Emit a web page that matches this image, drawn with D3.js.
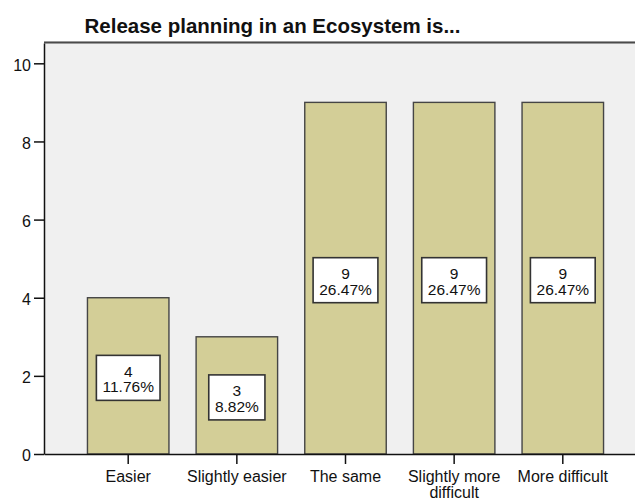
<!DOCTYPE html>
<html>
<head>
<meta charset="utf-8">
<script src="https://cdn.jsdelivr.net/npm/d3@7"></script>
<style>
  html, body { margin: 0; padding: 0; background: #ffffff; }
  svg { display: block; font-family: "Liberation Sans", Arial, sans-serif; }
</style>
</head>
<body>
<svg id="chart" width="635" height="500"></svg>
<script>
// Survey answers and their counts
const categories = ["Easier", "Slightly easier", "The same", "Slightly more difficult", "More difficult"];
const counts = [4, 3, 9, 9, 9];
const yTicks = [0, 2, 4, 6, 8, 10];
const title = "Release planning in an Ecosystem is...";

const svg = d3.select("#chart");
const plot = { left: 44, right: 647, top: 43, bottom: 454 };
const total = d3.sum(counts);
const pct = d3.format(".2f");

const x = d3.scaleBand()
  .domain(categories)
  .range([plot.left, plot.right])
  .paddingInner(0.25)
  .paddingOuter(0.4);

const y = d3.scaleLinear()
  .domain([0, 10.52])
  .range([plot.bottom, plot.top]);

// plot background
svg.append("rect")
  .attr("x", plot.left).attr("y", plot.top)
  .attr("width", plot.right - plot.left)
  .attr("height", plot.bottom - plot.top)
  .attr("fill", "#f0f0f0");

// top frame line
svg.append("line")
  .attr("x1", plot.left).attr("x2", plot.right)
  .attr("y1", plot.top - 0.5).attr("y2", plot.top - 0.5)
  .attr("stroke", "#9a9a9a").attr("stroke-width", 3);
svg.append("line")
  .attr("x1", plot.left).attr("x2", plot.right)
  .attr("y1", plot.top - 0.5).attr("y2", plot.top - 0.5)
  .attr("stroke", "#4a4a4a").attr("stroke-width", 1.2);

// title
svg.append("text")
  .attr("x", 272.5).attr("y", 33)
  .attr("text-anchor", "middle")
  .attr("font-size", "20.5px")
  .attr("font-weight", "bold")
  .attr("fill", "#111")
  .text(title);

// bars
const data = categories.map((c, i) => ({ cat: c, n: counts[i] }));

svg.append("g").selectAll("rect")
  .data(data)
  .join("rect")
  .attr("x", d => x(d.cat))
  .attr("y", d => y(d.n))
  .attr("width", x.bandwidth())
  .attr("height", d => y(0) - y(d.n))
  .attr("fill", "#d3ce97")
  .attr("stroke", "#454545")
  .attr("stroke-width", 1.4);

// y axis
const yAxis = svg.append("g")
  .attr("transform", `translate(${plot.left},0)`)
  .call(d3.axisLeft(y).tickValues(yTicks).tickSize(10).tickSizeOuter(0).tickFormat(d3.format("d")));
yAxis.select(".domain").attr("stroke", "#111").attr("stroke-width", 1.5);
yAxis.selectAll(".tick line").attr("stroke", "#111").attr("stroke-width", 1.5);
yAxis.selectAll(".tick text")
  .attr("x", -13)
  .attr("dy", "0.42em")
  .attr("font-size", "16px")
  .attr("font-family", "'Liberation Sans', Arial, sans-serif")
  .attr("fill", "#111");

// x axis
const xAxis = svg.append("g")
  .attr("transform", `translate(0,${plot.bottom})`)
  .call(d3.axisBottom(x).tickSize(10).tickSizeOuter(0));
xAxis.select(".domain").attr("stroke", "#111").attr("stroke-width", 1.5);
xAxis.selectAll(".tick line").attr("stroke", "#111").attr("stroke-width", 1.5);
xAxis.selectAll(".tick text")
  .attr("font-size", "16px")
  .attr("font-family", "'Liberation Sans', Arial, sans-serif")
  .attr("fill", "#111")
  .each(function(d) {
    // wrap long labels onto several lines
    const t = d3.select(this);
    const words = d.split(" ");
    t.text(null).attr("y", 0).attr("dy", null);
    let line = [];
    let lines = [];
    const probe = t.append("tspan");
    words.forEach(w => {
      const test = line.concat(w).join(" ");
      probe.text(test);
      if (probe.node().getComputedTextLength() > x.step() - 2 && line.length) {
        lines.push(line.join(" "));
        line = [w];
      } else {
        line.push(w);
      }
    });
    lines.push(line.join(" "));
    probe.remove();
    lines.forEach((l, i) => {
      t.append("tspan")
        .attr("x", 0)
        .attr("y", 28 + i * 16)
        .text(l);
    });
  });

// value labels: count over share of total
const labels = svg.append("g").selectAll("g")
  .data(data)
  .join("g")
  .attr("transform", d => `translate(${x(d.cat) + x.bandwidth() / 2},${y(d.n / 2) + 2.5})`);

labels.each(function(d) {
  const g = d3.select(this);
  const box = g.append("rect");
  const txt = g.append("text")
    .attr("text-anchor", "middle")
    .attr("font-size", "15.5px")
    .attr("fill", "#111");
  txt.append("tspan").attr("x", 0).attr("y", -1.5).text(d.n);
  txt.append("tspan").attr("x", 0).attr("y", 14).text(pct(d.n / total * 100) + "%");
  const w = txt.node().getBBox().width + 12;
  box.attr("x", -w / 2).attr("y", -23)
    .attr("width", w).attr("height", 45)
    .attr("fill", "#ffffff")
    .attr("stroke", "#333")
    .attr("stroke-width", 1.6);
});
</script>
</body>
</html>
